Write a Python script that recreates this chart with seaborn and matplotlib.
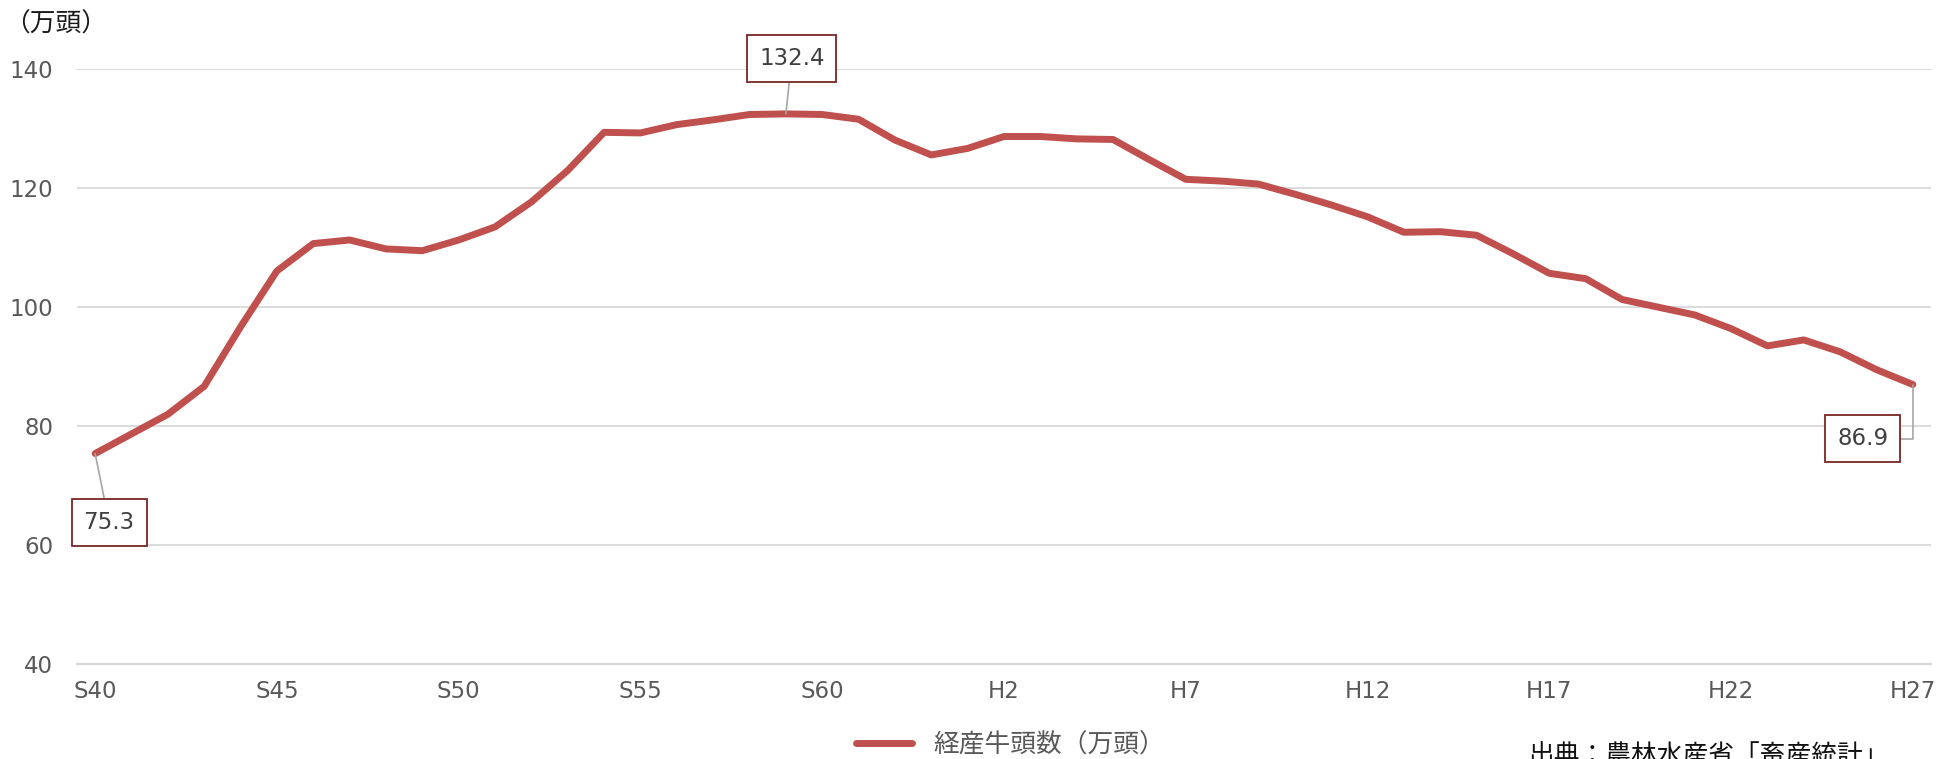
import numpy as np
import pandas as pd
import matplotlib
matplotlib.use("Agg")
import matplotlib.pyplot as plt
import seaborn as sns

# 経産牛頭数（万頭） S40 (1965) - H27 (2015)
era_labels = [f"S{n}" for n in range(40, 64)] + [f"H{n}" for n in range(1, 28)]
cows = [75.3, 78.6, 81.9, 86.6, 96.6, 106.0, 110.6, 111.2, 109.7, 109.4,
        111.2, 113.4, 117.6, 122.9, 129.3, 129.2, 130.6, 131.4, 132.3, 132.4,
        132.3, 131.5, 128.0, 125.5, 126.6, 128.6, 128.6, 128.2, 128.1, 124.7,
        121.4, 121.1, 120.6, 118.9, 117.1, 115.1, 112.5, 112.6, 112.0, 108.9,
        105.6, 104.7, 101.2, 99.9, 98.6, 96.3, 93.4, 94.4, 92.4, 89.4,
        86.9]
tick_labels = ["S40", "S45", "S50", "S55", "S60", "H2", "H7", "H12", "H17", "H22", "H27"]
y_ticks = [40, 60, 80, 100, 120, 140]
series_name = "経産牛頭数（万頭）"

# labelled points: (era, text)
callouts = [("S40", "75.3"), ("S59", "132.4"), ("H27", "86.9")]

df = pd.DataFrame({"era": era_labels, "value": cows})
df["pos"] = np.arange(len(df))

sns.set_theme(style="white")
# DejaVu for latin/digits (wide, Verdana-like), Noto CJK for Japanese
plt.rcParams['font.family'] = ['DejaVu Sans', 'Noto Sans CJK JP']

LINE = "#C0504D"
GRID = "#D9D9D9"
TXT = "#595959"

fig = plt.figure(figsize=(19.39, 7.59), dpi=100)
ax = fig.add_axes([0.0397, 0.1258, 0.9562, 0.7837])

sns.lineplot(data=df, x="pos", y="value", ax=ax, color=LINE, linewidth=5,
             label=series_name, legend=False, solid_capstyle="round")

ax.set_xlim(-0.5, len(df) - 0.5)
ax.set_ylim(40, 140)
ax.set_yticks(y_ticks)
ax.set_xticks([era_labels.index(t) for t in tick_labels])
ax.set_xticklabels(tick_labels)
ax.set_xticks(np.arange(-0.5, len(df), 1.0), minor=True)
ax.set_xlabel("")
ax.set_ylabel("")

ax.grid(axis="y", color=GRID, linewidth=1.3)
ax.grid(axis="x", visible=False)
for s in ["left", "right", "top"]:
    ax.spines[s].set_visible(False)
ax.spines["bottom"].set_color(GRID)
ax.spines["bottom"].set_linewidth(1.6)

ax.tick_params(axis="y", length=0, pad=17, labelsize=16.5, labelcolor=TXT)
ax.tick_params(axis="x", which="major", length=0, pad=12, labelsize=16.5, labelcolor=TXT)
ax.tick_params(axis="x", which="minor", direction="in", length=5.5, width=1.2, color=GRID)

box = dict(boxstyle="square,pad=0.52", fc="white", ec="#7B2525", lw=1.3)
offsets = {"75.3": (0.385, 63.65), "132.4": (19.16, 141.7), "86.9": (48.62, 77.76)}
for era, txt in callouts:
    i = era_labels.index(era)
    conn = "angle,angleA=0,angleB=90,rad=0" if txt == "86.9" else "arc3"
    ax.annotate(txt, xy=(i, cows[i]), xytext=offsets[txt], textcoords="data",
                ha="center", va="center", fontsize=16.5, color="#404040",
                bbox=box, annotation_clip=False,
                arrowprops=dict(arrowstyle="-", color="#A6A6A6", lw=1.2,
                                connectionstyle=conn, shrinkA=0, shrinkB=0))

fig.text(0.002, 0.968, "（万頭）", fontsize=18.5, color="#1a1a1a", ha="left", va="center")

leg = ax.legend(loc="center", bbox_to_anchor=(0.521, 0.018), bbox_transform=fig.transFigure,
                frameon=False, fontsize=18.5, handlelength=2.2, handletextpad=0.8)
for t in leg.get_texts():
    t.set_color(TXT)

fig.text(0.788, -0.014, "出典：農林水産省「畜産統計」", fontsize=18.5, color="#111111",
         ha="left", va="bottom")

fig.savefig("out.png", dpi=100)
